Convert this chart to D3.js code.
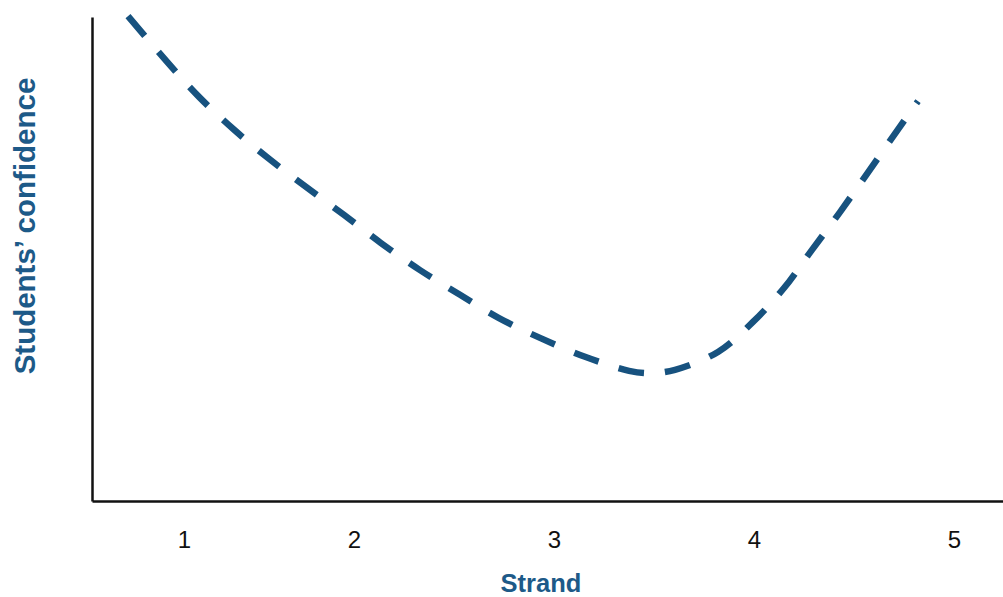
<!DOCTYPE html>
<html>
<head>
<meta charset="utf-8">
<script src="https://cdn.jsdelivr.net/npm/d3@7"></script>
<style>
  html, body { margin: 0; padding: 0; background: #fff; }
  svg { display: block; }
</style>
</head>
<body>
<svg id="chart" width="1003" height="597"></svg>
<script>
// ---- data ----
const strandValues = [0.87, 1.07, 1.225, 1.395, 1.575, 1.76, 1.95, 2.135, 2.33, 2.53, 2.725, 2.93, 3.155, 3.375, 3.48, 3.605, 3.82, 3.995, 4.15, 4.29, 4.43, 4.565, 4.70, 4.82];
const confidenceValues = [10.02, 9.05, 8.35, 7.69, 7.07, 6.49, 5.91, 5.33, 4.77, 4.26, 3.78, 3.37, 2.98, 2.69, 2.64, 2.71, 3.08, 3.70, 4.40, 5.19, 5.97, 6.76, 7.56, 8.26];
const tickPositions = [1.15, 2, 3, 4, 5];
const tickLabels = ["1", "2", "3", "4", "5"];
const xTitle = "Strand";
const yTitle = "Students\u2019 confidence";

// ---- layout ----
const svg = d3.select("#chart");
const mLeft = 92, mRight = 1003, mTop = 17, mBottom = 501;
const lineColor = "#17527f";
const titleColor = "#1d5a88";

const x = d3.scaleLinear().domain([0.69, 5.245]).range([mLeft, mRight]);
const y = d3.scaleLinear().domain([0, 10]).range([mBottom, mTop]);

const points = strandValues.map((v, i) => [v, confidenceValues[i]]);

// x axis
const xAxis = d3.axisBottom(x)
  .tickValues(tickPositions)
  .tickFormat((d, i) => tickLabels[i])
  .tickSize(0)
  .tickSizeOuter(0)
  .tickPadding(30);
const gx = svg.append("g").attr("transform", `translate(0,${mBottom})`).call(xAxis);
gx.select(".domain").attr("stroke", "#111").attr("stroke-width", 2.5);
gx.selectAll("text")
  .attr("font-family", "Liberation Sans, Arial, sans-serif")
  .attr("font-size", 24)
  .attr("fill", "#111");

// y axis
const yAxis = d3.axisLeft(y).tickValues([]).tickSizeOuter(0);
const gy = svg.append("g").attr("transform", `translate(${mLeft},0)`).call(yAxis);
gy.select(".domain").attr("stroke", "#111").attr("stroke-width", 2.5);

// curve
const line = d3.line()
  .x(d => x(d[0]))
  .y(d => y(d[1]))
  .curve(d3.curveCatmullRom.alpha(0.5));

svg.append("path")
  .datum(points)
  .attr("d", line)
  .attr("fill", "none")
  .attr("stroke", lineColor)
  .attr("stroke-width", 6.5)
  .attr("stroke-dasharray", "26 21");

// titles
svg.append("text")
  .attr("x", 541)
  .attr("y", 592)
  .attr("text-anchor", "middle")
  .attr("font-family", "Liberation Sans, Arial, sans-serif")
  .attr("font-weight", "bold")
  .attr("font-size", 25.5)
  .attr("fill", titleColor)
  .text(xTitle);

svg.append("text")
  .attr("transform", "translate(35,226) rotate(-90)")
  .attr("text-anchor", "middle")
  .attr("font-family", "Liberation Sans, Arial, sans-serif")
  .attr("font-weight", "bold")
  .attr("font-size", 29.5)
  .attr("fill", titleColor)
  .text(yTitle);
</script>
</body>
</html>
